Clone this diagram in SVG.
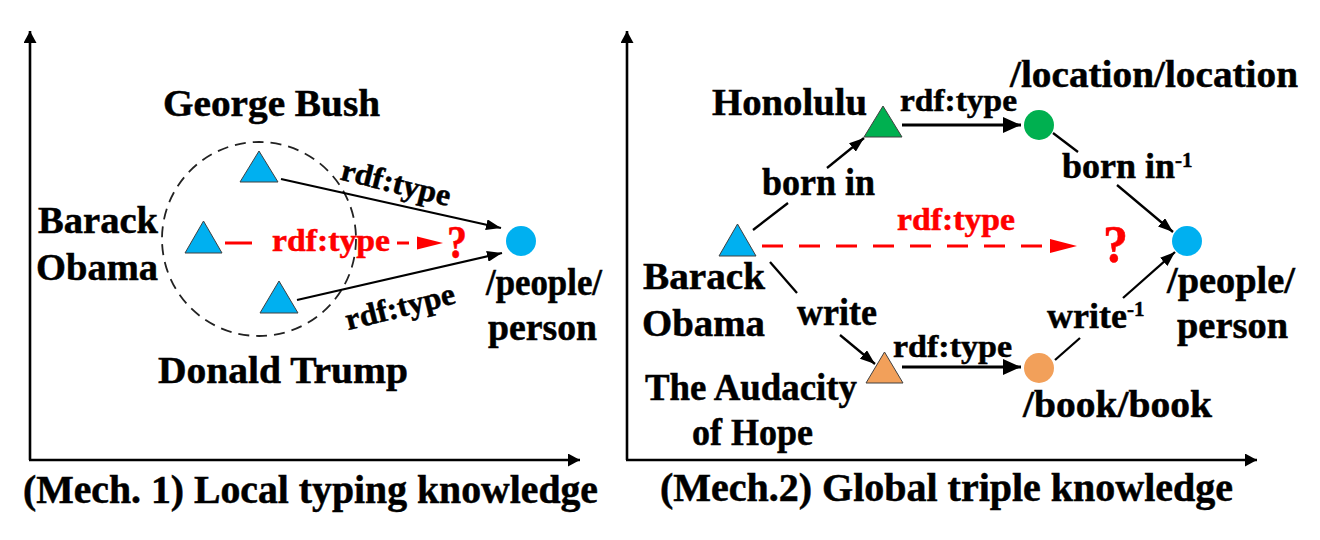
<svg xmlns="http://www.w3.org/2000/svg" width="1320" height="540" viewBox="0 0 1320 540">
<defs>
<style>
.t{font-family:"Liberation Serif","Times New Roman",serif;font-weight:bold;font-size:38px;fill:#000;stroke:#000;stroke-width:0.5}
.s{font-size:31px}
.cap{font-size:39px}
.red{fill:#FF0000;stroke:#FF0000}
.ax{stroke:#000;stroke-width:2.6;fill:none}
.ln{stroke:#000;stroke-width:2.3;fill:none}
.lnb{stroke:#000;stroke-width:3;fill:none}
.rd{stroke:#FF0000;stroke-width:3;fill:none}
.tri{stroke:#404040;stroke-width:1}
.blue{fill:#00B0F0}
.green{fill:#00B050}
.orange{fill:#F2A05A}
</style>
<marker id="ah" markerWidth="15" markerHeight="11" refX="15" refY="5.5" orient="auto" markerUnits="userSpaceOnUse"><path d="M0,0 L15,5.5 L0,11 z" fill="#000"/></marker>
<marker id="ahb" markerWidth="18" markerHeight="16" refX="18" refY="8" orient="auto" markerUnits="userSpaceOnUse"><path d="M0,0 L18,8 L0,16 z" fill="#000"/></marker>
<marker id="axh" markerWidth="12" markerHeight="13" refX="12" refY="6.5" orient="auto" markerUnits="userSpaceOnUse"><path d="M0,0 L12,6.5 L0,13 z" fill="#000"/></marker>
</defs>
<rect width="1320" height="540" fill="#fff"/>

<g id="axes">
<path class="ax" d="M30,460 V31" marker-end="url(#axh)"/>
<path class="ax" d="M29,460 H580" marker-end="url(#axh)"/>
<path class="ax" d="M627,460 V31" marker-end="url(#axh)"/>
<path class="ax" d="M626,460 H1257" marker-end="url(#axh)"/>
</g>

<g id="group-circle">
<circle cx="259" cy="239" r="97" fill="none" stroke="#222" stroke-width="1.8" stroke-dasharray="11 7"/>
</g>

<g id="connectors">
<line class="ln" x1="281" y1="179" x2="501" y2="228" marker-end="url(#ah)"/>
<line class="ln" x1="297" y1="300" x2="502" y2="253" marker-end="url(#ah)"/>
<line class="rd" x1="225" y1="243" x2="252" y2="243"/>
<line class="rd" x1="397" y1="243" x2="409" y2="243"/>
<polygon points="417,236.5 443,243 417,249.5" fill="#FF0000"/>

<line class="ln" x1="753" y1="230" x2="788" y2="203"/>
<line class="ln" x1="827" y1="168" x2="864" y2="138" marker-end="url(#ah)"/>
<line class="lnb" x1="902" y1="125" x2="1021" y2="125" marker-end="url(#ahb)"/>
<line class="ln" x1="1053" y1="133" x2="1078" y2="152"/>
<line class="ln" x1="1117" y1="185" x2="1173" y2="232" marker-end="url(#ah)"/>
<line class="rd" x1="762" y1="246" x2="1042" y2="246" stroke-dasharray="21 16"/>
<polygon points="1050,239 1077,246 1050,253" fill="#FF0000"/>
<line class="ln" x1="770" y1="262" x2="797" y2="293"/>
<line class="ln" x1="840" y1="335" x2="875" y2="364" marker-end="url(#ah)"/>
<line class="lnb" x1="902" y1="367" x2="1021" y2="367" marker-end="url(#ahb)"/>
<line class="ln" x1="1055" y1="360" x2="1080" y2="338"/>
<line class="ln" x1="1123" y1="298" x2="1175" y2="252" marker-end="url(#ah)"/>
</g>

<g id="edge-labels">
<text class="t s" transform="translate(396,183) rotate(14)" x="0" y="10" text-anchor="middle" textLength="112" lengthAdjust="spacingAndGlyphs">rdf:type</text>
<text class="t s" transform="translate(400,307) rotate(-14)" x="0" y="10" text-anchor="middle" textLength="112" lengthAdjust="spacingAndGlyphs">rdf:type</text>
<text class="t s red" x="272" y="251" textLength="118" lengthAdjust="spacingAndGlyphs">rdf:type</text>
<text class="t red" x="447" y="258" style="font-size:46px" textLength="20" lengthAdjust="spacingAndGlyphs">?</text>

<text class="t s" x="900" y="111" textLength="117" lengthAdjust="spacingAndGlyphs">rdf:type</text>
<text class="t" x="762" y="195" textLength="113" lengthAdjust="spacingAndGlyphs">born in</text>
<text class="t" x="1062" y="178" style="font-size:36px">born in<tspan dy="-11" style="font-size:21px">-1</tspan></text>
<text class="t s red" x="897" y="230" textLength="118" lengthAdjust="spacingAndGlyphs">rdf:type</text>
<text class="t red" x="1103" y="262" style="font-size:52px" textLength="25" lengthAdjust="spacingAndGlyphs">?</text>
<text class="t" x="797" y="325" textLength="80" lengthAdjust="spacingAndGlyphs">write</text>
<text class="t" x="1047" y="328" style="font-size:36px">write<tspan dy="-12" style="font-size:21px">-1</tspan></text>
<text class="t s" x="893" y="357" textLength="119" lengthAdjust="spacingAndGlyphs">rdf:type</text>
</g>

<g id="node-george-bush">
<polygon class="tri blue" points="259,151 278,182 240,182"/>
<text class="t" x="163" y="116" textLength="217" lengthAdjust="spacingAndGlyphs">George Bush</text>
</g>
<g id="node-barack-obama-1">
<polygon class="tri blue" points="203.5,221 222,253 185,253"/>
<text class="t" x="38" y="233" textLength="120" lengthAdjust="spacingAndGlyphs">Barack</text>
<text class="t" x="36" y="280" textLength="122" lengthAdjust="spacingAndGlyphs">Obama</text>
</g>
<g id="node-donald-trump">
<polygon class="tri blue" points="279,281 298,313 260,313"/>
<text class="t" x="158" y="383" textLength="250" lengthAdjust="spacingAndGlyphs">Donald Trump</text>
</g>
<g id="node-people-person-1">
<circle class="blue" cx="521" cy="241" r="15"/>
<text class="t" x="486" y="295" textLength="116" lengthAdjust="spacingAndGlyphs">/people/</text>
<text class="t" x="488" y="340" textLength="109" lengthAdjust="spacingAndGlyphs">person</text>
</g>

<g id="node-barack-obama-2">
<polygon class="tri blue" points="737.5,224 756,256 719,256"/>
<text class="t" x="643" y="289" textLength="122" lengthAdjust="spacingAndGlyphs">Barack</text>
<text class="t" x="642" y="336" textLength="123" lengthAdjust="spacingAndGlyphs">Obama</text>
</g>
<g id="node-honolulu">
<polygon class="tri green" points="883,106 902,137 864,137"/>
<text class="t" x="712" y="115" textLength="155" lengthAdjust="spacingAndGlyphs">Honolulu</text>
</g>
<g id="node-location">
<circle class="green" cx="1039" cy="125" r="15"/>
<text class="t" x="1010" y="87" textLength="288" lengthAdjust="spacingAndGlyphs">/location/location</text>
</g>
<g id="node-people-person-2">
<circle class="blue" cx="1187" cy="241" r="15"/>
<text class="t" x="1167" y="293" textLength="128" lengthAdjust="spacingAndGlyphs">/people/</text>
<text class="t" x="1177" y="338" textLength="111" lengthAdjust="spacingAndGlyphs">person</text>
</g>
<g id="node-audacity">
<polygon class="tri orange" points="884.5,352 903,383 866,383"/>
<text class="t" x="645" y="400" textLength="212" lengthAdjust="spacingAndGlyphs">The Audacity</text>
<text class="t" x="692" y="445" textLength="121" lengthAdjust="spacingAndGlyphs">of Hope</text>
</g>
<g id="node-book">
<circle class="orange" cx="1039" cy="368" r="15"/>
<text class="t" x="1023" y="417" textLength="189" lengthAdjust="spacingAndGlyphs">/book/book</text>
</g>

<g id="captions">
<text class="t cap" x="23" y="503" textLength="575" lengthAdjust="spacingAndGlyphs">(Mech. 1) Local typing knowledge</text>
<text class="t cap" x="660" y="501" textLength="573" lengthAdjust="spacingAndGlyphs">(Mech.2) Global triple knowledge</text>
</g>
</svg>
